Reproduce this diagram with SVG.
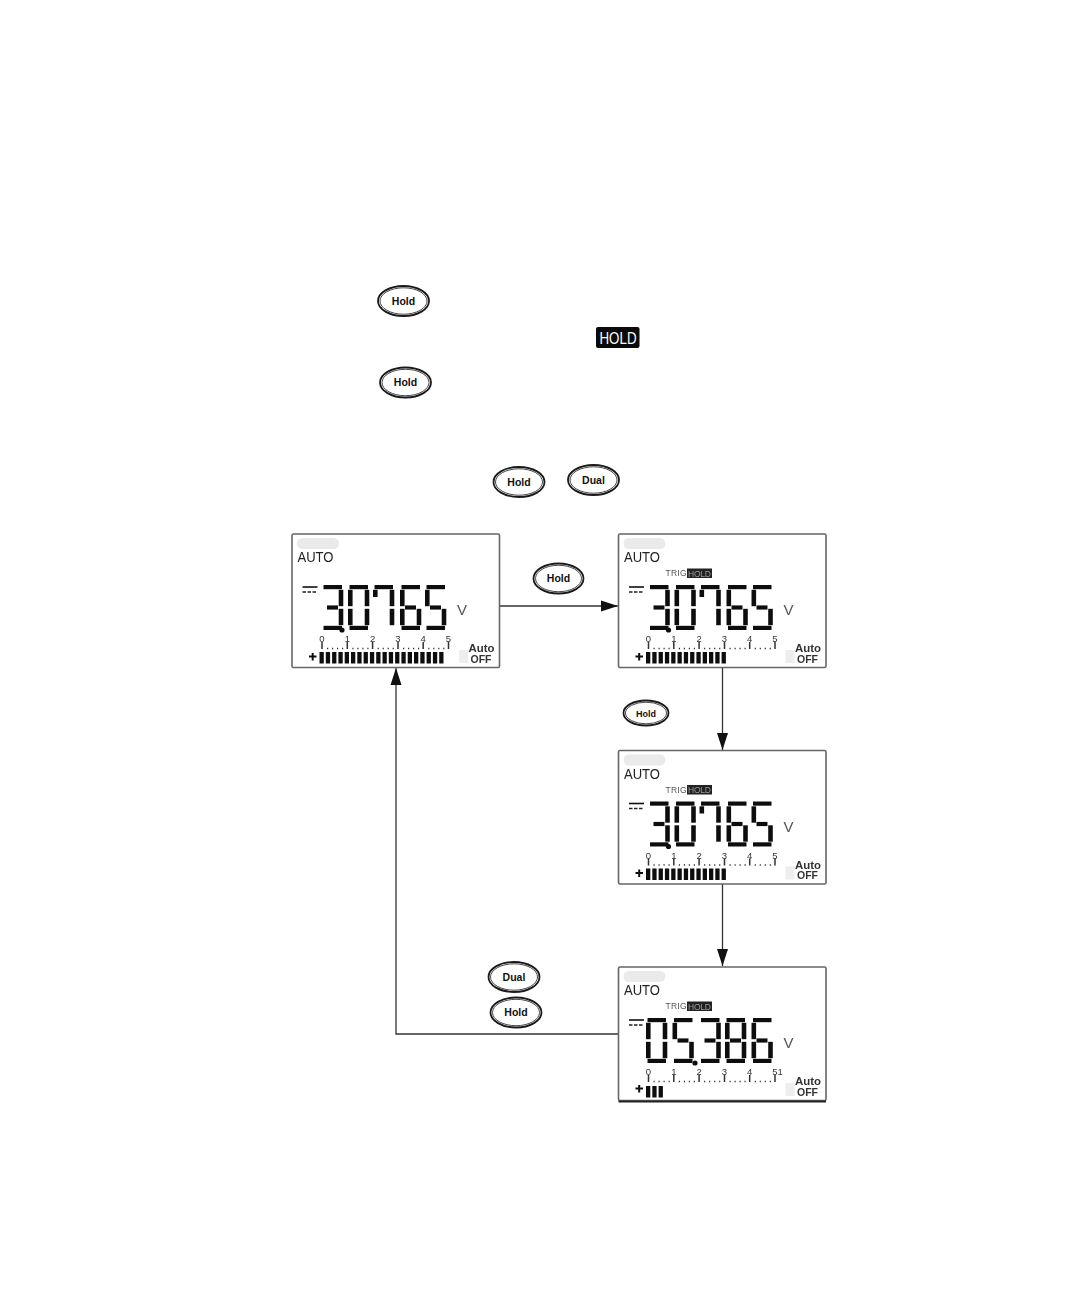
<svg xmlns="http://www.w3.org/2000/svg" width="1080" height="1296" viewBox="0 0 1080 1296">
<style>
text{font-family:"Liberation Sans",Arial,sans-serif}
.btn-o{fill:#fff;stroke:#1a1a1a;stroke-width:1.8}
.btn-i{fill:none;stroke:#333;stroke-width:.9}
.btn-t{font-size:10.5px;font-weight:700;text-anchor:middle;fill:#111}
.box{fill:#fff;stroke:#666;stroke-width:1.6}
.auto{font-size:14px;fill:#222}
.v{font-size:15px;fill:#555}
.trig{font-size:8.5px;fill:#555}
.hold-s{font-size:8.5px;fill:#999}
.sc{font-size:9.5px;fill:#333;text-anchor:middle}
.ao{font-size:10.5px;font-weight:700;fill:#333;text-anchor:middle}
.seg{stroke:#111;stroke-width:4.2;fill:none}
.sv{stroke:#111;stroke-width:4.6;fill:none}
.conn{fill:none;stroke:#333;stroke-width:1.3}
.lcd{filter:url(#soft)}
</style>
<defs>
<filter id="soft" x="-2%" y="-2%" width="104%" height="104%"><feGaussianBlur stdDeviation="0.45"/></filter>
<marker id="arr" markerUnits="userSpaceOnUse" markerWidth="18" markerHeight="14" refX="17" refY="7" orient="auto"><path d="M0 1.500 L17 7 L0 12.500 Z" fill="#111"/></marker>
<line id="a" class="seg" x1="1.500" y1="2.100" x2="20" y2="2.100"/>
<line id="f" class="sv" x1="2.300" y1="4.800" x2="2.300" y2="21.200"/>
<line id="b" class="sv" x1="19" y1="4.800" x2="19" y2="21.200"/>
<line id="g" class="seg" x1="5" y1="22.500" x2="16" y2="22.500"/>
<line id="e" class="sv" x1="2.300" y1="23.800" x2="2.300" y2="40.200"/>
<line id="c" class="sv" x1="19" y1="23.800" x2="19" y2="40.200"/>
<line id="d" class="seg" x1="1.500" y1="42.900" x2="20" y2="42.900"/>
<g id="d0"><use href="#a"/><use href="#b"/><use href="#c"/><use href="#d"/><use href="#e"/><use href="#f"/></g>
<g id="d3"><use href="#a"/><use href="#b"/><use href="#c"/><use href="#d"/><use href="#g"/></g>
<g id="d5"><use href="#a"/><use href="#f"/><use href="#g"/><use href="#c"/><use href="#d"/></g>
<g id="d6"><use href="#a"/><use href="#f"/><use href="#g"/><use href="#c"/><use href="#d"/><use href="#e"/></g>
<g id="d7"><use href="#a"/><use href="#b"/><use href="#c"/><line class="sv" x1="2.300" y1="4.800" x2="2.300" y2="12"/></g>
<g id="d8"><use href="#a"/><use href="#b"/><use href="#c"/><use href="#d"/><use href="#e"/><use href="#f"/><use href="#g"/></g>
<g id="reading"><use href="#d3" x="30" y="51"/><use href="#d0" x="56" y="51"/><use href="#d7" x="81" y="51"/><use href="#d6" x="108" y="51"/><use href="#d5" x="133" y="51"/><circle cx="50" cy="96" r="2.600" fill="#111"/></g>
<g id="frame">
<rect class="box" x="0" y="0" width="207.500" height="133.500" rx="1.500"/>
<rect x="5" y="4" width="42" height="11" rx="5.500" fill="#eaeaea"/>
<rect x="167" y="116" width="9" height="13" fill="#eeeeee"/>
<line x1="10.500" y1="53" x2="25.500" y2="53" stroke="#111" stroke-width="1.600"/>
<line x1="10.500" y1="58" x2="25.500" y2="58" stroke="#222" stroke-width="1.400" stroke-dasharray="3.500 1.500"/>
<path d="M30 108v7M55.300 108v7M80.600 108v7M106 108v7M131.200 108v7M156.500 108v7" stroke="#333" stroke-width="1.500"/>
<path d="M35 114.500h1.200M40 114.500h1.200M45 114.500h1.200M50 114.500h1.200M60.300 114.500h1.200M65.300 114.500h1.200M70.300 114.500h1.200M75.300 114.500h1.200M85.600 114.500h1.200M90.600 114.500h1.200M95.600 114.500h1.200M100.600 114.500h1.200M111 114.500h1.200M116 114.500h1.200M121 114.500h1.200M126 114.500h1.200M136.200 114.500h1.200M141.200 114.500h1.200M146.200 114.500h1.200M151.200 114.500h1.200" stroke="#333" stroke-width="1.500"/>
</g>
<path id="plus" d="M17 122.500h7.500M20.700 119v7.500" stroke="#111" stroke-width="2" fill="none"/>
<rect id="bar" width="4.300" height="11.500" fill="#111"/>
</defs>

<g id="connectors">
<path class="conn" d="M500 606H618" marker-end="url(#arr)"/>
<path class="conn" d="M722.500 668V750" marker-end="url(#arr)"/>
<path class="conn" d="M722.500 884V966" marker-end="url(#arr)"/>
<path class="conn" d="M618 1034H396V668" marker-end="url(#arr)"/>
</g>

<g id="btn-hold-1"><ellipse class="btn-o" cx="403.500" cy="301" rx="25.500" ry="15"/><ellipse class="btn-i" cx="403.500" cy="301" rx="23.500" ry="13.200"/><text class="btn-t" x="403.500" y="304.500">Hold</text></g>
<g id="badge-hold"><rect x="596" y="327" width="43.500" height="21" rx="2" fill="#0a0a0a"/><text x="599.500" y="344" font-size="17" fill="#fff" textLength="37" lengthAdjust="spacingAndGlyphs">HOLD</text></g>
<g id="btn-hold-2"><ellipse class="btn-o" cx="405.500" cy="382.500" rx="25.500" ry="15"/><ellipse class="btn-i" cx="405.500" cy="382.500" rx="23.500" ry="13.200"/><text class="btn-t" x="405.500" y="386">Hold</text></g>
<g id="btn-hold-3"><ellipse class="btn-o" cx="519" cy="482" rx="25.500" ry="15"/><ellipse class="btn-i" cx="519" cy="482" rx="23.500" ry="13.200"/><text class="btn-t" x="519" y="485.500">Hold</text></g>
<g id="btn-dual-1"><ellipse class="btn-o" cx="593.500" cy="480" rx="25.500" ry="15"/><ellipse class="btn-i" cx="593.500" cy="480" rx="23.500" ry="13.200"/><text class="btn-t" x="593.500" y="483.500">Dual</text></g>
<g id="btn-hold-4"><ellipse class="btn-o" cx="558.500" cy="578.500" rx="25" ry="15"/><ellipse class="btn-i" cx="558.500" cy="578.500" rx="23" ry="13.200"/><text class="btn-t" x="558.500" y="582">Hold</text></g>
<g id="btn-hold-5"><ellipse class="btn-o" cx="646" cy="713" rx="22.500" ry="12.500"/><ellipse class="btn-i" cx="646" cy="713" rx="20.500" ry="10.800"/><text class="btn-t" x="646" y="716.500" style="font-size:9px">Hold</text></g>
<g id="btn-dual-2"><ellipse class="btn-o" cx="514" cy="977" rx="25.500" ry="15"/><ellipse class="btn-i" cx="514" cy="977" rx="23.500" ry="13.200"/><text class="btn-t" x="514" y="980.500">Dual</text></g>
<g id="btn-hold-6"><ellipse class="btn-o" cx="516" cy="1012.500" rx="25.500" ry="15"/><ellipse class="btn-i" cx="516" cy="1012.500" rx="23.500" ry="13.200"/><text class="btn-t" x="516" y="1016">Hold</text></g>

<g id="lcd-1" class="lcd" transform="translate(292 534)"><title>3.0765</title>
<use href="#frame"/><use href="#plus"/><text class="auto" x="5.500" y="28" textLength="36" lengthAdjust="spacingAndGlyphs">AUTO</text>
<use href="#reading"/><text class="v" x="165" y="81">V</text>
<text class="sc" x="30" y="108">0</text><text class="sc" x="55.300" y="108">1</text><text class="sc" x="80.600" y="108">2</text><text class="sc" x="106" y="108">3</text><text class="sc" x="131.200" y="108">4</text><text class="sc" x="156.500" y="108">5</text>
<g transform="translate(27.500 118)"><use href="#bar"/><use href="#bar" x="6.300"/><use href="#bar" x="12.600"/><use href="#bar" x="18.900"/><use href="#bar" x="25.200"/><use href="#bar" x="31.500"/><use href="#bar" x="37.800"/><use href="#bar" x="44.100"/><use href="#bar" x="50.400"/><use href="#bar" x="56.700"/><use href="#bar" x="63"/><use href="#bar" x="69.300"/><use href="#bar" x="75.600"/><use href="#bar" x="81.900"/><use href="#bar" x="88.200"/><use href="#bar" x="94.500"/><use href="#bar" x="100.800"/><use href="#bar" x="107.100"/><use href="#bar" x="113.400"/><use href="#bar" x="119.700"/></g>
<text class="ao" x="189.500" y="118" textLength="26" lengthAdjust="spacingAndGlyphs">Auto</text><text class="ao" x="189" y="128.500" textLength="21" lengthAdjust="spacingAndGlyphs">OFF</text>
</g>

<g id="lcd-2" class="lcd" transform="translate(618.500 534)"><title>3.0765</title>
<use href="#frame"/><use href="#plus"/><text class="auto" x="5.500" y="28" textLength="36" lengthAdjust="spacingAndGlyphs">AUTO</text>
<text class="trig" x="47" y="42" textLength="21">TRIG</text><rect x="68.500" y="34.500" width="25" height="9.500" fill="#222"/><text class="hold-s" x="69.500" y="42.500" textLength="23">HOLD</text>
<use href="#reading"/><text class="v" x="165" y="81">V</text>
<text class="sc" x="30" y="108">0</text><text class="sc" x="55.300" y="108">1</text><text class="sc" x="80.600" y="108">2</text><text class="sc" x="106" y="108">3</text><text class="sc" x="131.200" y="108">4</text><text class="sc" x="156.500" y="108">5</text>
<g transform="translate(27.500 118)"><use href="#bar"/><use href="#bar" x="6.300"/><use href="#bar" x="12.600"/><use href="#bar" x="18.900"/><use href="#bar" x="25.200"/><use href="#bar" x="31.500"/><use href="#bar" x="37.800"/><use href="#bar" x="44.100"/><use href="#bar" x="50.400"/><use href="#bar" x="56.700"/><use href="#bar" x="63"/><use href="#bar" x="69.300"/><use href="#bar" x="75.600"/></g>
<text class="ao" x="189.500" y="118" textLength="26" lengthAdjust="spacingAndGlyphs">Auto</text><text class="ao" x="189" y="128.500" textLength="21" lengthAdjust="spacingAndGlyphs">OFF</text>
</g>

<g id="lcd-3" class="lcd" transform="translate(618.500 750.500)"><title>3.0765</title>
<use href="#frame"/><use href="#plus"/><text class="auto" x="5.500" y="28" textLength="36" lengthAdjust="spacingAndGlyphs">AUTO</text>
<text class="trig" x="47" y="42" textLength="21">TRIG</text><rect x="68.500" y="34.500" width="25" height="9.500" fill="#222"/><text class="hold-s" x="69.500" y="42.500" textLength="23">HOLD</text>
<use href="#reading"/><text class="v" x="165" y="81">V</text>
<text class="sc" x="30" y="108">0</text><text class="sc" x="55.300" y="108">1</text><text class="sc" x="80.600" y="108">2</text><text class="sc" x="106" y="108">3</text><text class="sc" x="131.200" y="108">4</text><text class="sc" x="156.500" y="108">5</text>
<g transform="translate(27.500 118)"><use href="#bar"/><use href="#bar" x="6.300"/><use href="#bar" x="12.600"/><use href="#bar" x="18.900"/><use href="#bar" x="25.200"/><use href="#bar" x="31.500"/><use href="#bar" x="37.800"/><use href="#bar" x="44.100"/><use href="#bar" x="50.400"/><use href="#bar" x="56.700"/><use href="#bar" x="63"/><use href="#bar" x="69.300"/><use href="#bar" x="75.600"/></g>
<text class="ao" x="189.500" y="118" textLength="26" lengthAdjust="spacingAndGlyphs">Auto</text><text class="ao" x="189" y="128.500" textLength="21" lengthAdjust="spacingAndGlyphs">OFF</text>
</g>

<g id="lcd-4" class="lcd" transform="translate(618.500 967)"><title>05.386</title>
<use href="#frame"/><line x1="0" y1="134.500" x2="207.500" y2="134.500" stroke="#222" stroke-width="2"/><use href="#plus" y="-1"/><text class="auto" x="5.500" y="28" textLength="36" lengthAdjust="spacingAndGlyphs">AUTO</text>
<text class="trig" x="47" y="42" textLength="21">TRIG</text><rect x="68.500" y="34.500" width="25" height="9.500" fill="#222"/><text class="hold-s" x="69.500" y="42.500" textLength="23">HOLD</text>
<use href="#d0" x="27.500" y="51"/><use href="#d5" x="54" y="51"/><use href="#d3" x="81" y="51"/><use href="#d8" x="106.500" y="51"/><use href="#d6" x="133" y="51"/><circle cx="76.500" cy="96" r="2.600" fill="#111"/>
<text class="v" x="165" y="81">V</text>
<text class="sc" x="30" y="108">0</text><text class="sc" x="55.300" y="108">1</text><text class="sc" x="80.600" y="108">2</text><text class="sc" x="106" y="108">3</text><text class="sc" x="131.200" y="108">4</text><text class="sc" x="159" y="108">51</text>
<g transform="translate(27.500 119)"><use href="#bar"/><use href="#bar" x="6.300"/><use href="#bar" x="12.600"/></g>
<text class="ao" x="189.500" y="118" textLength="26" lengthAdjust="spacingAndGlyphs">Auto</text><text class="ao" x="189" y="128.500" textLength="21" lengthAdjust="spacingAndGlyphs">OFF</text>
</g>
</svg>
